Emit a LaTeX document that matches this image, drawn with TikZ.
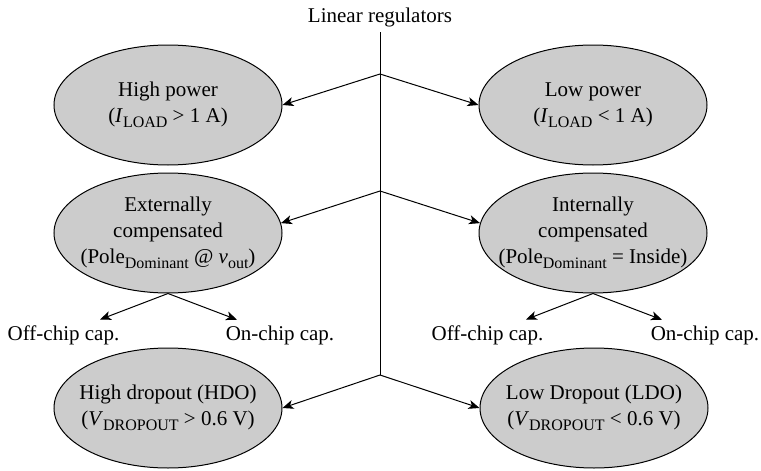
\documentclass[tikz,border=0pt]{standalone}
\usepackage{fontspec}
\setmainfont{Liberation Serif}
\usetikzlibrary{arrows.meta,calc,shapes.geometric}
% lowered, smaller subscript
\newcommand\sbx[1]{\raisebox{-4.5pt}{\fontsize{16}{16}\selectfont #1}}
\begin{document}
\begin{tikzpicture}[x=1pt,y=-1pt,
  every node/.style={font=\fontsize{21}{26}\selectfont},
  oval/.style={ellipse,draw,line width=1pt,fill=black!20,
    minimum width=228pt,minimum height=120pt,inner sep=0pt},
  capt/.style={align=center,inner sep=0pt},
  lbl/.style={anchor=base,inner sep=1pt},
  conn/.style={line width=1pt,-{Stealth[length=11pt,width=9pt,inset=3pt]}},
  trunk/.style={line width=1pt}]
  \useasboundingbox (0,0) rectangle (761,471);

  % title and trunk
  \node[anchor=base] (title) at (380,22) {Linear regulators};
  \coordinate (j0) at (380,32);
  \coordinate (j1) at (380,74);
  \coordinate (j2) at (380,191);
  \coordinate (j3) at (380,375);
  \draw[trunk] (j0) -- (j3);

  % categories
  \node[oval,label={[capt]center:{High power\\(\textit{I}\sbx{LOAD} > 1 A)}}] (hp) at (168,105) {};
  \node[oval,label={[capt]center:{Low power\\(\textit{I}\sbx{LOAD} < 1 A)}}] (lp) at (593,105) {};
  \node[oval,label={[capt]center:{Externally\\compensated\\(Pole\sbx{Dominant} @ \textit{v}\sbx{out})}}] (ext) at (168,233) {};
  \node[oval,label={[capt]center:{Internally\\compensated\\(Pole\sbx{Dominant} = Inside)}}] (int) at (593,233) {};
  \node[oval,label={[capt]center:{High dropout (HDO)\\(\textit{V}\sbx{DROPOUT} > 0.6 V)}}] (hdo) at (168,408) {};
  \node[oval,label={[capt]center:{Low Dropout (LDO)\\(\textit{V}\sbx{DROPOUT} < 0.6 V)}}] (ldo) at (594,408) {};

  % capacitor options
  \node[lbl] (offL) at (63.5,340) {Off-chip cap.};
  \node[lbl] (onL) at (280,340) {On-chip cap.};
  \node[lbl] (offR) at (487.5,340) {Off-chip cap.};
  \node[lbl] (onR) at (705,340) {On-chip cap.};

  % branches from the trunk
  \draw[conn] (j1) -- (hp.east);
  \draw[conn] (j1) -- (lp.west);
  \draw[conn] (j2) -- (ext.5);
  \draw[conn] (j2) -- (int.175);
  \draw[conn] (j3) -- (hdo.east);
  \draw[conn] (j3) -- (ldo.west);

  % compensation sub-branches
  \draw[conn] (ext.south) -- ($(offL.north)+(36.5,-4.5)$);
  \draw[conn] (ext.south) -- ($(onL.north)+(-43,-4.5)$);
  \draw[conn] (int.south) -- ($(offR.north)+(38.5,-4.5)$);
  \draw[conn] (int.south) -- ($(onR.north)+(-43,-4.5)$);
\end{tikzpicture}
\end{document}
